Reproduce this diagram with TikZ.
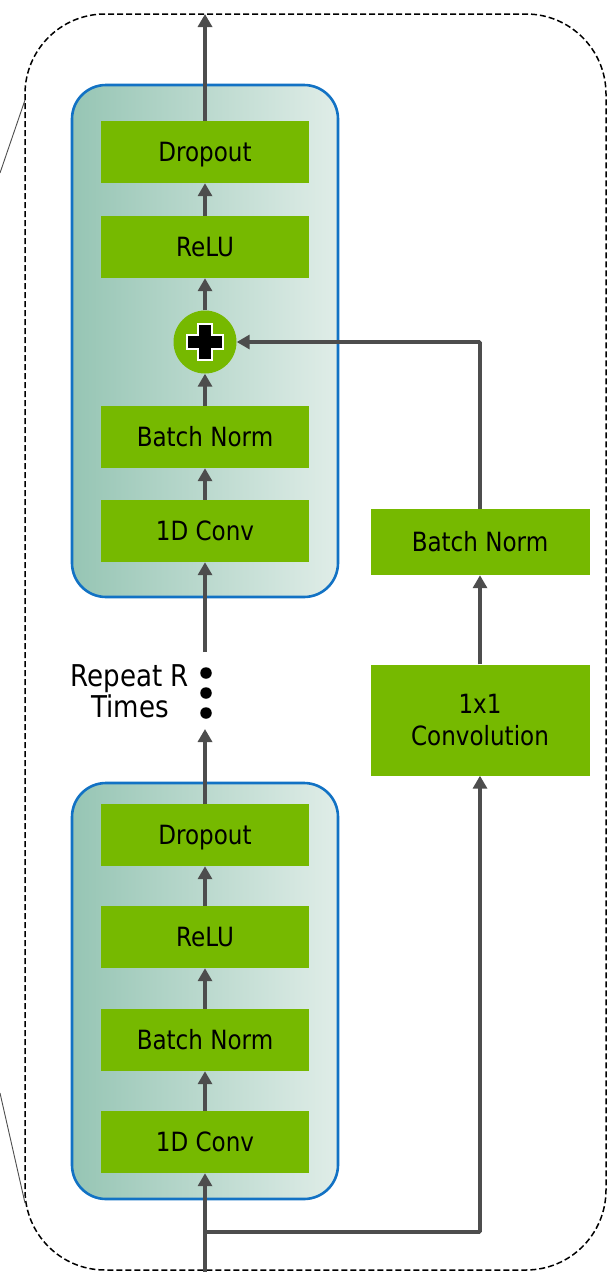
\documentclass[tikz,border=0pt]{standalone}
\usepackage{fontspec}
\setmainfont{DejaVu Sans}[FakeStretch=0.87]
\usetikzlibrary{arrows.meta}
\definecolor{nvgreen}{HTML}{76B900}
\definecolor{arrowgray}{HTML}{4D4D4D}
\definecolor{blockblue}{HTML}{1272C4}
\definecolor{shadeL}{HTML}{96C5B4}
\definecolor{shadeR}{HTML}{E0EDE8}
\tikzset{
  layerbox/.style={fill=nvgreen, draw=none, minimum width=208pt, minimum height=62pt,
    inner sep=0pt, font=\fontsize{26.5}{31}\selectfont, text=black, text height=19pt, text depth=0pt},
  sidebox/.style={fill=nvgreen, draw=none, minimum width=219pt, inner sep=0pt,
    font=\fontsize{26.5}{32}\selectfont, text=black, align=center},
  flow/.style={draw=arrowgray, line width=3.8pt, -{Triangle[length=13pt,width=14pt]}},
  blockshade/.style={left color=shadeL, right color=shadeR, draw=blockblue, line width=2.6pt, rounded corners=34pt},
  outerdash/.style={draw=black, line width=1.5pt, dash pattern=on 6pt off 3pt, rounded corners=80pt},
  dotmark/.style={circle, fill=black, inner sep=0pt, minimum size=11.5pt}
}
\begin{document}
\begin{tikzpicture}[x=1pt,y=-1pt]
\useasboundingbox (0,0) rectangle (608,1272);
% outer dashed frame and callout lines
\draw[outerdash] (25,14) rectangle (606,1270);
\draw[arrowgray, line width=0.9pt] (25,100) -- (0,173);
\draw[arrowgray, line width=0.9pt] (0,1093) -- (25,1203);
% blocks
\shade[blockshade] (72,85) rectangle (338,597);
\shade[blockshade] (72,783) rectangle (338,1199);
% top block nodes
\node[layerbox] (d1) at (205,152) {Dropout};
\node[layerbox] (r1) at (205,247) {ReLU};
\node[circle, fill=nvgreen, minimum size=63pt, inner sep=0pt] (plus) at (205,342) {};
\node[layerbox] (b1) at (205,437) {Batch Norm};
\node[layerbox] (c1) at (205,531) {1D Conv};
% plus glyph
\draw[fill=black, draw=white, line width=2.6pt]
  (198,324) -- (212,324) -- (212,335) -- (223,335) -- (223,349) -- (212,349) -- (212,360)
  -- (198,360) -- (198,349) -- (187,349) -- (187,335) -- (198,335) -- cycle;
% bottom block nodes
\node[layerbox] (d2) at (205,835) {Dropout};
\node[layerbox] (r2) at (205,937) {ReLU};
\node[layerbox] (b2) at (205,1040) {Batch Norm};
\node[layerbox] (c2) at (205,1142) {1D Conv};
% residual branch
\node[sidebox, minimum height=66pt, text height=19pt, text depth=0pt] (rb) at (480,542) {Batch Norm};
\node[sidebox, minimum height=111pt] (rc) at (480,720) {1x1\\Convolution};
% repeat marker
\node[dotmark] (dotA) at (206,673) {};
\node[dotmark] (dotB) at (206,693) {};
\node[dotmark] (dotC) at (206,713) {};
\node[font=\fontsize{30}{31}\selectfont, align=center] (rep) at (130,691) {Repeat R\\Times};
% coordinates
\coordinate (top) at (205,14);
\coordinate (gapstart) at (205,652);
\coordinate (gapend) at (205,729);
\coordinate (input) at (205,1272);
\coordinate (split) at (205,1232);
\coordinate (splitR) at (480,1232);
\coordinate (fbcorner) at (480,342);
% main flow arrows
\draw[flow] (d1.north) -- (top);
\draw[flow] (r1.north) -- (d1.south);
\draw[flow] (plus.north) -- (r1.south);
\draw[flow] (b1.north) -- (plus.south);
\draw[flow] (c1.north) -- (b1.south);
\draw[flow] (gapstart) -- (c1.south);
\draw[flow] (d2.north) -- (gapend);
\draw[flow] (r2.north) -- (d2.south);
\draw[flow] (b2.north) -- (r2.south);
\draw[flow] (c2.north) -- (b2.south);
\draw[flow] (input) -- (c2.south);
% residual path
\draw[flow, rounded corners=1pt] (split) -- (splitR) -- (rc.south);
\draw[flow] (rc.north) -- (rb.south);
\draw[flow, rounded corners=1pt] (rb.north) -- (fbcorner) -- (plus.east);
\end{tikzpicture}
\end{document}
